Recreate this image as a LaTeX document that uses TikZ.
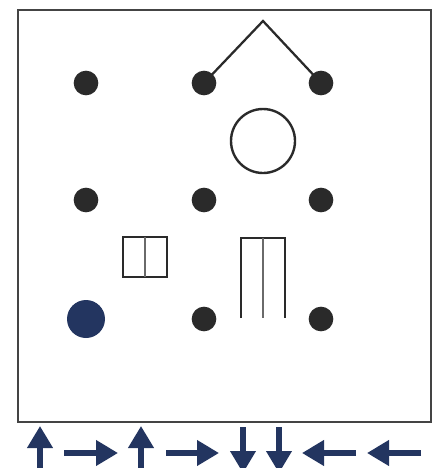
\documentclass[tikz,border=0pt]{standalone}
\usetikzlibrary{arrows.meta}
\definecolor{dotgray}{HTML}{2A2A2A}
\definecolor{navy}{HTML}{233560}
\definecolor{framegray}{HTML}{444444}
\begin{document}
\begin{tikzpicture}[x=0.75pt,y=-0.75pt,
  dot/.style={circle,fill=dotgray,draw=none,minimum size=18.5pt,inner sep=0pt},
  bluedot/.style={circle,fill=navy,draw=none,minimum size=28.5pt,inner sep=0pt},
  outl/.style={draw=dotgray,line width=2pt},
  thin/.style={draw=dotgray!70,line width=1.2pt},
  bigarrow/.style={draw=navy,line width=3.8pt,-{Triangle[length=16.5pt,width=18.5pt]}}]
\useasboundingbox (0,0) rectangle (444,468);
\draw[draw=framegray,line width=1.1pt] (18,10) rectangle (431,422);
% dots
\node[dot] (d11) at (86,83) {};
\node[dot] (d12) at (204,83) {};
\node[dot] (d13) at (321,83) {};
\node[dot] (d21) at (86,200) {};
\node[dot] (d22) at (204,200) {};
\node[dot] (d23) at (321,200) {};
\node[bluedot] (d31) at (86,319) {};
\node[dot] (d32) at (204,319) {};
\node[dot] (d33) at (321,319) {};
% roof
\coordinate (peak) at (263,21);
\draw[draw=dotgray,line width=1.7pt] (d12.center) -- (peak) -- (d13.center);
% circle
\node[circle,draw=dotgray,line width=1.8pt,minimum size=48pt,inner sep=0pt] (ring) at (263,141) {};
% small box
\draw[outl] (123,237) rectangle (167,277);
\draw[thin] (145,237) -- (145,277);
% tall box (open bottom)
\draw[outl] (241,318) -- (241,238) -- (285,238) -- (285,318);
\draw[thin] (263,238) -- (263,318);
% bottom arrows
\coordinate (a1s) at (40,472); \coordinate (a1e) at (40,426);
\coordinate (a2s) at (64,453); \coordinate (a2e) at (118,453);
\coordinate (a3s) at (141,472); \coordinate (a3e) at (141,426);
\coordinate (a4s) at (166,453); \coordinate (a4e) at (219,453);
\coordinate (a5s) at (243,427); \coordinate (a5e) at (243,473);
\coordinate (a6s) at (279,427); \coordinate (a6e) at (279,473);
\coordinate (a7s) at (356,453); \coordinate (a7e) at (302,453);
\coordinate (a8s) at (421,453); \coordinate (a8e) at (367,453);
\foreach \i in {1,...,8} {\draw[bigarrow] (a\i s) -- (a\i e);}
\end{tikzpicture}
\end{document}
